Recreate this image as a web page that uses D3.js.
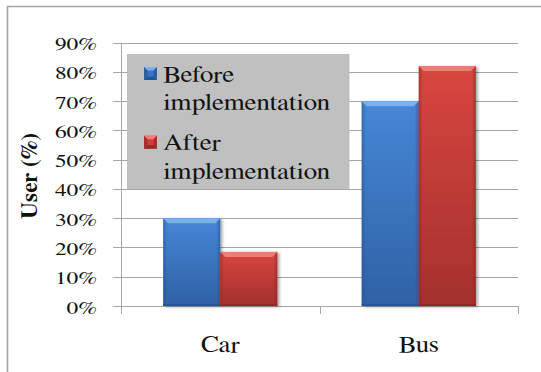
<!DOCTYPE html>
<html>
<head>
<meta charset="utf-8">
<script src="https://cdn.jsdelivr.net/npm/d3@7"></script>
<style>
  html, body { margin: 0; padding: 0; background: #ffffff; }
  svg { display: block; }
</style>
</head>
<body>
<svg id="chart" width="541" height="372"></svg>
<script>
// ---- data ----
const categories = ["Car", "Bus"];
const seriesNames = ["Before implementation", "After implementation"];
const before = [0.30, 0.70];
const after = [0.185, 0.82];
const yTicks = [0, 0.1, 0.2, 0.3, 0.4, 0.5, 0.6, 0.7, 0.8, 0.9];
const yTickLabels = ["0%", "10%", "20%", "30%", "40%", "50%", "60%", "70%", "80%", "90%"];
const yTitle = "User (%)";

const rows = categories.map((c, i) => ({ category: c, values: [before[i], after[i]] }));

const FONT = "FreeSerif, 'Liberation Serif', serif";

// ---- layout ----
const svg = d3.select("#chart");
const plot = { left: 121, right: 518, top: 42.7, bottom: 306 };

const x0 = d3.scaleBand().domain(categories).range([plot.left, plot.right]).padding(0);
const x1 = d3.scaleBand().domain(d3.range(seriesNames.length))
  .range([0, x0.bandwidth()]).paddingInner(0).paddingOuter(0.74);
const y = d3.scaleLinear().domain([0, 0.9]).range([plot.bottom, plot.top]);

// fills: face gradient, bevel highlight, edge shade
const palette = [
  { top: "#4787d6", bottom: "#2f61a5", bevel: "#79b0ef", edge: "#23508f", swatch: "#3a74c2" },
  { top: "#d9463f", bottom: "#a3302d", bevel: "#ee7b77", edge: "#8a2523", swatch: "#cc3f3b" }
];

const defs = svg.append("defs");
palette.forEach((p, i) => {
  const g = defs.append("linearGradient").attr("id", "face" + i)
    .attr("x1", 0).attr("y1", 0).attr("x2", 0).attr("y2", 1);
  g.append("stop").attr("offset", "0%").attr("stop-color", p.top);
  g.append("stop").attr("offset", "100%").attr("stop-color", p.bottom);
  const s = defs.append("linearGradient").attr("id", "side" + i)
    .attr("x1", 0).attr("y1", 0).attr("x2", 1).attr("y2", 0);
  s.append("stop").attr("offset", "0%").attr("stop-color", p.edge).attr("stop-opacity", 0.55);
  s.append("stop").attr("offset", "7%").attr("stop-color", p.edge).attr("stop-opacity", 0);
  s.append("stop").attr("offset", "93%").attr("stop-color", p.edge).attr("stop-opacity", 0);
  s.append("stop").attr("offset", "100%").attr("stop-color", p.edge).attr("stop-opacity", 0.6);
});
const shadow = defs.append("filter").attr("id", "shadow")
  .attr("x", "-10%").attr("y", "-10%").attr("width", "130%").attr("height", "130%");
shadow.append("feGaussianBlur").attr("in", "SourceAlpha").attr("stdDeviation", 1.5).attr("result", "b");
shadow.append("feOffset").attr("in", "b").attr("dx", 1.5).attr("dy", 1).attr("result", "o");
shadow.append("feComponentTransfer").attr("in", "o").attr("result", "s")
  .append("feFuncA").attr("type", "linear").attr("slope", 0.35);
const m = shadow.append("feMerge");
m.append("feMergeNode").attr("in", "s");
m.append("feMergeNode").attr("in", "SourceGraphic");

// ---- outer frame ----
svg.append("path")
  .attr("d", "M7.5,372 L7.5,6.5 L541,6.5")
  .attr("fill", "none").attr("stroke", "#a3a3a3").attr("stroke-width", 1.6);

// ---- gridlines and y ticks ----
const yAxis = d3.axisLeft(y).tickValues(yTicks)
  .tickSize(plot.right - plot.left + 8).tickSizeOuter(0)
  .tickFormat((d, i) => yTickLabels[i]);
const gy = svg.append("g").attr("transform", `translate(${plot.right},0)`).call(yAxis)
  .attr("font-family", FONT);
gy.select(".domain").remove();
gy.selectAll(".tick line").attr("stroke", "#a6a6a6").attr("stroke-width", 1)
  .attr("shape-rendering", "crispEdges");
gy.selectAll(".tick text")
  .attr("x", null).attr("dy", null)
  .attr("text-anchor", "end")
  .attr("font-family", FONT)
  .attr("font-size", 18)
  .attr("transform", `translate(${97 - plot.right},7) scale(1.3,1)`)
  .attr("fill", "#111");

// vertical axis line
svg.append("line")
  .attr("x1", plot.left + 0.5).attr("x2", plot.left + 0.5)
  .attr("y1", plot.top).attr("y2", plot.bottom + 8)
  .attr("stroke", "#a6a6a6").attr("shape-rendering", "crispEdges");

// category separators below the baseline
const catTicks = categories.map(c => x0(c) + x0.bandwidth());
svg.selectAll("line.cat-tick").data(catTicks).join("line")
  .attr("class", "cat-tick")
  .attr("x1", d => Math.round(d) + 0.5).attr("x2", d => Math.round(d) + 0.5)
  .attr("y1", plot.bottom).attr("y2", plot.bottom + 8)
  .attr("stroke", "#a6a6a6").attr("shape-rendering", "crispEdges");

// category labels
svg.selectAll("text.cat").data(categories).join("text")
  .attr("class", "cat")
  .attr("text-anchor", "middle")
  .attr("font-family", FONT)
  .attr("font-size", 23)
  .attr("fill", "#111")
  .attr("transform", d => `translate(${x0(d) + x0.bandwidth() / 2},352) scale(1.17,1)`)
  .text(d => d);

// ---- legend (sits over the gridlines on the left) ----
const legend = svg.append("g");
legend.append("rect")
  .attr("x", 127).attr("y", 54).attr("width", 222.5).attr("height", 135)
  .attr("fill", "#c0c0c0");

function bevelSwatch(g, x, yTop, size, p) {
  const s = size, k = 3.5;
  g.append("rect").attr("x", x).attr("y", yTop).attr("width", s).attr("height", s).attr("fill", p.swatch);
  g.append("path").attr("d", `M${x},${yTop} L${x + s},${yTop} L${x + s - k},${yTop + k} L${x + k},${yTop + k} Z`)
    .attr("fill", p.bevel);
  g.append("path").attr("d", `M${x},${yTop} L${x + k},${yTop + k} L${x + k},${yTop + s - k} L${x},${yTop + s} Z`)
    .attr("fill", p.edge).attr("opacity", 0.6);
  g.append("path").attr("d", `M${x + s},${yTop} L${x + s - k},${yTop + k} L${x + s - k},${yTop + s - k} L${x + s},${yTop + s} Z`)
    .attr("fill", p.edge).attr("opacity", 0.6);
  g.append("path").attr("d", `M${x},${yTop + s} L${x + k},${yTop + s - k} L${x + s - k},${yTop + s - k} L${x + s},${yTop + s} Z`)
    .attr("fill", p.edge).attr("opacity", 0.85);
}

const legendRows = [
  { lines: ["Before", "implementation"], swatchY: 67, baseline: 81.7 },
  { lines: ["After", "implementation"], swatchY: 135.7, baseline: 150 }
];
legendRows.forEach((r, i) => {
  bevelSwatch(legend, 144, r.swatchY, 13, palette[i]);
  r.lines.forEach((t, j) => {
    legend.append("text")
      .attr("font-family", FONT)
      .attr("font-size", 23)
      .attr("fill", "#111")
      .attr("transform", `translate(163.3,${r.baseline + j * 28.5}) scale(1.18,1)`)
      .text(t);
  });
});

// ---- bars ----
const groups = svg.selectAll("g.group").data(rows).join("g")
  .attr("class", "group")
  .attr("transform", d => `translate(${x0(d.category)},0)`);

groups.each(function (d) {
  const g = d3.select(this);
  d.values.forEach((v, i) => {
    const p = palette[i];
    const bx = x1(i), bw = x1.bandwidth();
    const by = y(v), bh = y(0) - y(v);
    const bar = g.append("g").attr("filter", "url(#shadow)");
    bar.append("rect").attr("x", bx).attr("y", by).attr("width", bw).attr("height", bh)
      .attr("fill", `url(#face${i})`);
    bar.append("rect").attr("x", bx).attr("y", by).attr("width", bw).attr("height", bh)
      .attr("fill", `url(#side${i})`);
    const k = 5;
    bar.append("path")
      .attr("d", `M${bx},${by} L${bx + bw},${by} L${bx + bw - k},${by + k} L${bx + k},${by + k} Z`)
      .attr("fill", p.bevel);
    bar.append("rect").attr("x", bx).attr("y", by + bh - 2).attr("width", bw).attr("height", 2)
      .attr("fill", p.edge).attr("opacity", 0.7);
  });
});

// ---- y title ----
svg.append("text")
  .attr("text-anchor", "middle")
  .attr("font-family", FONT)
  .attr("font-size", 23)
  .attr("font-weight", "bold")
  .attr("fill", "#111")
  .attr("transform", "translate(36.5,176) rotate(-90)")
  .attr("textLength", 86).attr("lengthAdjust", "spacingAndGlyphs")
  .text(yTitle);
</script>
</body>
</html>
